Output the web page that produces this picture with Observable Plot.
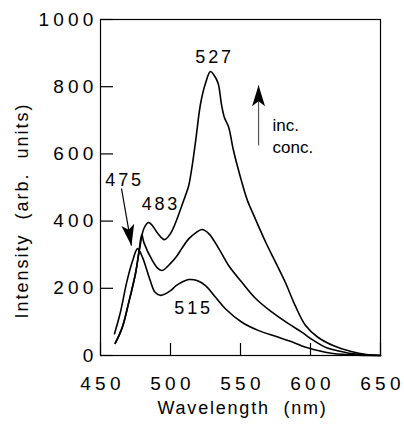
<!DOCTYPE html>
<html>
<head>
<meta charset="utf-8">
<script src="https://cdn.jsdelivr.net/npm/d3@7"></script>
<script src="https://cdn.jsdelivr.net/npm/@observablehq/plot@0.6"></script>
<style>
  html, body { margin: 0; padding: 0; background: #fff; }
  g[aria-label="y-axis tick label"] text, g[aria-label="x-axis tick label"] text { letter-spacing: 4.2px; }
</style>
</head>
<body>
<div id="chart"></div>
<script>
// Tick values and labels
const xTicks = [450, 500, 550, 600, 650];
const xTickLabels = ["450", "500", "550", "600", "650"];
const yTicks = [0, 200, 400, 600, 800, 1000];
const yTickLabels = ["0", "200", "400", "600", "800", "1000"];

// Series A (lowest concentration, peak 475)
const wlA = [460, 464, 469, 473, 476.5, 480, 485.5, 489, 493, 500, 504, 508, 513, 519, 525, 532, 539, 551, 563, 575, 587, 596, 606, 616, 625, 634, 642, 650];
const intA = [65, 125, 223, 283, 318, 292, 223, 188, 179, 193, 208, 218, 226, 223, 208, 174, 140, 99, 74, 57, 40, 25, 14, 6, 3, 1, 0, 0];

// Series B (middle)
const wlB = [460.5, 465.5, 470, 475, 477.5, 479.5, 481, 487, 491, 494, 500, 504, 508, 513, 518, 522.5, 527.5, 534.5, 541.5, 551, 561, 572.5, 584.5, 594, 601, 612, 622, 629, 640, 650];
const intB = [36, 83, 155, 244, 310, 360, 336, 283, 259, 253, 274, 293, 318, 347, 365, 375, 362, 318, 268, 218, 169, 129, 94, 69, 48, 22, 12, 6, 2, 0];

// Series C (highest concentration, peaks 483 and 527)
const wlC = [460.5, 465.5, 470, 475, 478, 481, 484.3, 487, 491, 495.7, 500, 505, 508, 511, 513, 515.5, 518, 521.5, 525, 528.5, 531, 534, 536.5, 538.5, 541.5, 545, 550, 555, 559.5, 568, 575, 582, 589, 596.5, 605, 617, 629, 640, 650];
const intC = [36, 83, 155, 244, 320, 378, 396, 387, 363, 345, 363, 410, 445, 480, 505, 565, 640, 750, 810, 845, 835, 810, 745, 708, 680, 610, 530, 461, 417, 337, 278, 218, 149, 89, 55, 28, 12, 3, 0];

// Peak annotations
const peakLabels = ["527", "475", "483", "515"];
const peakLabelX = [530.4, 466.1, 492.1, 515.4];
const peakLabelY = [872, 503, 432, 125];

// "inc. conc." note
const noteLabels = ["inc.", "conc."];
const noteX = [572.9, 572.9];
const noteY = [667, 604];

// Axis titles
const xTitle = "Wavelength  (nm)";
const yTitle = "Intensity  (arb.  units)";

// Arrows: tail and tip
const arrowX1 = [562.9, 465];
const arrowY1 = [625, 497];
const arrowX2 = [562.9, 472.1];
const arrowY2 = [804, 327];
const arrowRotate = [0, 170];
const arrowShaftColor = ["#555", "#000"];

const toRows = (xs, ys) => xs.map((x, i) => ({x, y: ys[i]}));
const seriesA = toRows(wlA, intA);
const seriesB = toRows(wlB, intB);
const seriesC = toRows(wlC, intC);
const peaks = peakLabels.map((t, i) => ({t, x: peakLabelX[i], y: peakLabelY[i]}));
const notes = noteLabels.map((t, i) => ({t, x: noteX[i], y: noteY[i]}));
const arrows = arrowX1.map((x1, i) => ({x1, y1: arrowY1[i], x2: arrowX2[i], y2: arrowY2[i], r: arrowRotate[i], c: arrowShaftColor[i]}));

// Arrowhead symbol with its tip at the origin, pointing up
const arrowHead = {
  draw(ctx) {
    ctx.moveTo(0, 0);
    ctx.lineTo(-6.5, 21);
    ctx.lineTo(0, 16);
    ctx.lineTo(6.5, 21);
    ctx.closePath();
  }
};

const font = "'Liberation Sans', Arial, Helvetica, sans-serif";

const chart = Plot.plot({
  width: 404,
  height: 428,
  marginLeft: 100,
  marginRight: 24,
  marginTop: 19,
  marginBottom: 73,
  style: {fontFamily: font, fontSize: "17px", background: "#fff", color: "#000"},
  x: {domain: [450, 650]},
  y: {domain: [0, 1000]},
  marks: [
    Plot.frame({stroke: "#000", strokeWidth: 1.2}),
    Plot.tickY(yTicks, {y: d => d, insetRight: 280 - 13, stroke: "#000", strokeWidth: 1.2}),
    Plot.tickX(xTicks, {x: d => d, insetTop: 336 - 12, stroke: "#000", strokeWidth: 1.2}),
    Plot.axisY({ticks: yTicks, tickSize: 0, tickPadding: 3, label: null, fontSize: 19,
      tickFormat: d => yTickLabels[yTicks.indexOf(d)]}),
    Plot.axisX({ticks: xTicks, tickSize: 0, tickPadding: 21, label: null, fontSize: 19, dx: 2,
      tickFormat: d => xTickLabels[xTicks.indexOf(d)]}),
    Plot.line(seriesA, {x: "x", y: "y", stroke: "#000", strokeWidth: 1.6, curve: "catmull-rom"}),
    Plot.line(seriesB, {x: "x", y: "y", stroke: "#000", strokeWidth: 1.6, curve: "catmull-rom"}),
    Plot.line(seriesC, {x: "x", y: "y", stroke: "#000", strokeWidth: 1.6, curve: "catmull-rom"}),
    Plot.text(peaks, {x: "x", y: "y", text: "t", fontSize: 18, lineAnchor: "bottom", dx: 1.5}),
    Plot.text(notes, {x: "x", y: "y", text: "t", fontSize: 17, lineAnchor: "bottom", textAnchor: "start"}),
    Plot.link(arrows, {x1: "x1", y1: "y1", x2: "x2", y2: "y2", stroke: "c", strokeWidth: 1.2}),
    Plot.dot(arrows, {x: "x2", y: "y2", rotate: "r", symbol: arrowHead, fill: "#000", stroke: "none", r: 5}),
    Plot.text([yTitle], {frameAnchor: "left", textAnchor: "middle", lineAnchor: "middle", rotate: -90, dx: -78.5, dy: 23, fontSize: 18}),
    Plot.text([xTitle], {frameAnchor: "bottom", textAnchor: "middle", dx: 2, dy: 58, lineAnchor: "bottom", fontSize: 18})
  ]
});

// Letter spacing and preserved spaces for annotation and title texts
chart.querySelectorAll("text").forEach(t => {
  const s = t.textContent;
  const inAxis = t.closest('g[aria-label$="tick label"]');
  if (inAxis) return;
  if (peakLabels.includes(s)) {
    t.style.letterSpacing = "2.8px";
  } else if (s === xTitle) {
    t.style.letterSpacing = "1.8px";
    t.style.whiteSpace = "pre";
    t.setAttribute("xml:space", "preserve");
  } else if (s === yTitle) {
    t.style.letterSpacing = "2px";
    t.style.whiteSpace = "pre";
    t.setAttribute("xml:space", "preserve");
  }
});
document.getElementById("chart").appendChild(chart);
</script>
</body>
</html>
